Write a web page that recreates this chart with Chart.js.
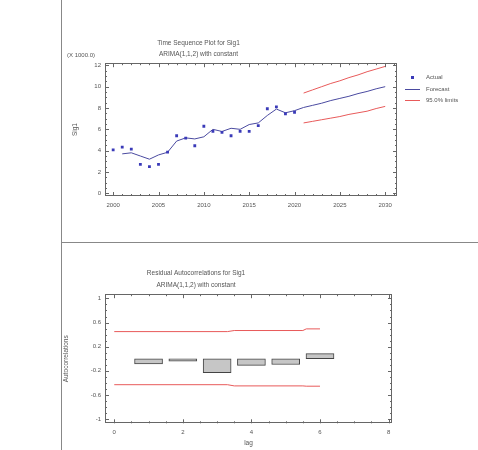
<!DOCTYPE html>
<html>
<head>
<meta charset="utf-8">
<script src="https://cdn.jsdelivr.net/npm/chart.js@4.4.0/dist/chart.umd.min.js"></script>
<style>
  body { margin: 0; background: #fff; }
  #page { position: relative; width: 478px; height: 450px; overflow: hidden;
          font-family: "Liberation Sans", Arial, sans-serif; color: #555; }
  #vline { position: absolute; left: 61px; top: 0; width: 1px; height: 450px; background: #888; }
  #hline { position: absolute; left: 61px; top: 242px; width: 417px; height: 1px; background: #888; }
  canvas { position: absolute; left: 0; }
  #topChart { top: 0; }
  #acfChart { top: 245px; }
  .note { position: absolute; left: 67px; top: 52px; font-size: 6px; }
  .leg { position: absolute; left: 405px; font-size: 6px; line-height: 8px; height: 8px; white-space: nowrap; }
  .leg i { display: inline-block; width: 15px; height: 0; vertical-align: middle; margin-right: 6px; }
  .leg b { display: inline-block; width: 3px; height: 3px; background: #3a3ab8; margin: 0 12px 0 6px; vertical-align: middle; }
</style>
</head>
<body>
<div id="page">
  <div id="vline"></div>
  <div id="hline"></div>
  <canvas id="topChart" width="478" height="240"></canvas>
  <canvas id="acfChart" width="478" height="205"></canvas>
  <div class="note">(X 1000.0)</div>
  <div class="leg" style="top:73px"><b></b>Actual</div>
  <div class="leg" style="top:85px"><i style="border-top:1px solid #4a4aa0"></i>Forecast</div>
  <div class="leg" style="top:96px"><i style="border-top:1px solid #e85a5a"></i>95.0% limits</div>
</div>
<script>
// time sequence plot
const years = [2000, 2001, 2002, 2003, 2004, 2005, 2006, 2007, 2008, 2009, 2010,
  2011, 2012, 2013, 2014, 2015, 2016, 2017, 2018, 2019, 2020];
const actual = [4.08, 4.33, 4.14, 2.72, 2.5, 2.72, 3.86, 5.4, 5.18, 4.46, 6.29,
  5.81, 5.72, 5.4, 5.81, 5.81, 6.35, 7.93, 8.1, 7.46, 7.6];

const fitYears = [2001, 2002, 2003, 2004, 2005, 2006, 2007, 2008, 2009, 2010,
  2011, 2012, 2013, 2014, 2015, 2016, 2017, 2018, 2019, 2020,
  2021, 2022, 2023, 2024, 2025, 2026, 2027, 2028, 2029, 2030];
const fitted = [3.7, 3.8, 3.5, 3.2, 3.6, 3.85, 4.9, 5.2, 5.1, 5.3,
  6.0, 5.8, 6.1, 6.0, 6.45, 6.6, 7.3, 7.9, 7.55, 7.75,
  8.05, 8.25, 8.45, 8.7, 8.9, 9.1, 9.35, 9.55, 9.8, 10.0];

const limitYears = [2021, 2022, 2023, 2024, 2025, 2026, 2027, 2028, 2029, 2030];
const upper = [9.4, 9.7, 10.0, 10.3, 10.55, 10.85, 11.1, 11.4, 11.65, 11.9];
const lower = [6.6, 6.75, 6.9, 7.05, 7.2, 7.4, 7.55, 7.7, 7.95, 8.15];

const yearTicks = [2000, 2005, 2010, 2015, 2020, 2025, 2030];
const sigTicks = [0, 2, 4, 6, 8, 10, 12];

// residual autocorrelations
const lags = [1, 2, 3, 4, 5, 6];
const residualAcf = [-0.085, -0.04, -0.23, -0.11, -0.095, 0.085];
const limitLags = [0, 3.3, 3.5, 5.5, 5.6, 6];
const acfUpper = [0.45, 0.45, 0.468, 0.468, 0.495, 0.495];
const acfLower = [-0.43, -0.43, -0.45, -0.45, -0.455, -0.455];
const lagTicks = [0, 2, 4, 6, 8];
const acfTicks = [-1, -0.6, -0.2, 0.2, 0.6, 1];

const textColor = '#555';
const tickFont = { family: 'Liberation Sans', size: 6 };
const titleFont = { family: 'Liberation Sans', size: 6.5, weight: 'normal' };

// frame with inward ticks on all four sides
const frameTicks = {
  id: 'frameTicks',
  afterDraw(chart, args, opts) {
    const { ctx, chartArea: a, scales: { x, y } } = chart;
    ctx.save();
    ctx.strokeStyle = '#666';
    ctx.lineWidth = 1;
    ctx.strokeRect(Math.round(a.left) + 0.5, Math.round(a.top) + 0.5,
      Math.round(a.width) - 1, Math.round(a.height) - 1);
    ctx.beginPath();
    const near = (v, list) => list.some(t => Math.abs(t - v) < 1e-6);
    const xMajor = x.ticks.map(t => t.value);
    const yMajor = y.ticks.map(t => t.value);
    for (let v = Math.ceil(x.min / opts.xStep) * opts.xStep; v <= x.max; v += opts.xStep) {
      const px = Math.round(x.getPixelForValue(v)) + 0.5;
      const len = near(v, xMajor) ? 4 : 2;
      ctx.moveTo(px, a.bottom); ctx.lineTo(px, a.bottom - len);
      ctx.moveTo(px, a.top); ctx.lineTo(px, a.top + len);
    }
    for (let v = Math.ceil(y.min / opts.yStep) * opts.yStep; v <= y.max; v += opts.yStep) {
      const py = Math.round(y.getPixelForValue(v)) + 0.5;
      const len = near(v, yMajor) ? 4 : 2;
      ctx.moveTo(a.left, py); ctx.lineTo(a.left + len, py);
      ctx.moveTo(a.right, py); ctx.lineTo(a.right - len, py);
    }
    ctx.stroke();
    ctx.restore();
  }
};

const pts = (xs, ys) => xs.map((v, i) => ({ x: v, y: ys[i] }));

new Chart(document.getElementById('topChart'), {
  type: 'line',
  data: {
    datasets: [
      { label: 'Actual', data: pts(years, actual), showLine: false,
        pointStyle: 'rect', pointRadius: 2, backgroundColor: '#3a3ab8', borderColor: '#3a3ab8', borderWidth: 0 },
      { label: 'Forecast', data: pts(fitYears, fitted), borderColor: '#4a4aa0', borderWidth: 1, pointRadius: 0 },
      { label: 'Upper limit', data: pts(limitYears, upper), borderColor: '#e85a5a', borderWidth: 1, pointRadius: 0 },
      { label: 'Lower limit', data: pts(limitYears, lower), borderColor: '#e85a5a', borderWidth: 1, pointRadius: 0 }
    ]
  },
  options: {
    responsive: false,
    animation: false,
    layout: { padding: { left: 0, right: 81, bottom: 0, top: 0 } },
    plugins: {
      legend: { display: false },
      tooltip: { enabled: false },
      title: { display: true, text: 'Time Sequence Plot for Sig1', color: textColor, font: titleFont,
        padding: { top: 39, bottom: 4 } },
      subtitle: { display: true, text: 'ARIMA(1,1,2) with constant', color: textColor, font: titleFont,
        padding: { top: 0, bottom: 4.6 } },
      frameTicks: { xStep: 1, yStep: 0.5 }
    },
    scales: {
      x: {
        type: 'linear', min: 1999.1, max: 2031.3,
        afterBuildTicks: s => { s.ticks = yearTicks.map(v => ({ value: v })); },
        afterFit: s => { s.height = 44; },
        grid: { display: false, drawTicks: false }, border: { display: false },
        ticks: { color: textColor, font: tickFont, padding: 6, maxRotation: 0, callback: v => String(v) }
      },
      y: {
        min: -0.25, max: 12.2,
        afterBuildTicks: s => { s.ticks = sigTicks.map(v => ({ value: v })); },
        afterFit: s => { s.width = 105; },
        grid: { display: false, drawTicks: false }, border: { display: false },
        ticks: { color: textColor, font: tickFont, padding: 4, callback: v => String(v) },
        title: { display: true, text: 'Sig1', color: textColor, font: titleFont, padding: { top: 71, bottom: 0 } }
      }
    }
  },
  plugins: [frameTicks]
});

new Chart(document.getElementById('acfChart'), {
  type: 'bar',
  data: {
    datasets: [
      { label: 'Residual autocorrelation', data: pts(lags, residualAcf),
        backgroundColor: '#c6c6c6', borderColor: '#444', borderWidth: 1, barThickness: 28, borderSkipped: false },
      { type: 'line', label: 'Upper limit', data: pts(limitLags, acfUpper),
        borderColor: '#e85a5a', borderWidth: 1, pointRadius: 0 },
      { type: 'line', label: 'Lower limit', data: pts(limitLags, acfLower),
        borderColor: '#e85a5a', borderWidth: 1, pointRadius: 0 }
    ]
  },
  options: {
    responsive: false,
    animation: false,
    layout: { padding: { left: 0, right: 86, bottom: 0, top: 0 } },
    plugins: {
      legend: { display: false },
      tooltip: { enabled: false },
      title: { display: true, text: 'Residual Autocorrelations for Sig1', color: textColor, font: titleFont,
        padding: { top: 24, bottom: 4.2 } },
      subtitle: { display: true, text: 'ARIMA(1,1,2) with constant', color: textColor, font: titleFont,
        padding: { top: 0, bottom: 5.4 } },
      frameTicks: { xStep: 0.5, yStep: 0.1 }
    },
    scales: {
      x: {
        type: 'linear', min: -0.27, max: 8.1, offset: false,
        afterBuildTicks: s => { s.ticks = lagTicks.map(v => ({ value: v })); },
        afterFit: s => { s.height = 26.7; },
        grid: { display: false, drawTicks: false }, border: { display: false },
        ticks: { color: textColor, font: tickFont, padding: 5, maxRotation: 0, callback: v => String(v) },
        title: { display: true, text: 'lag', color: textColor, font: titleFont, padding: { top: 0, bottom: 3 } }
      },
      y: {
        min: -1.07, max: 1.07,
        afterBuildTicks: s => { s.ticks = acfTicks.map(v => ({ value: v })); },
        afterFit: s => { s.width = 105; },
        grid: { display: false, drawTicks: false }, border: { display: false },
        ticks: { color: textColor, font: tickFont, padding: 4, callback: v => String(v) },
        title: { display: true, text: 'Autocorrelations', color: textColor, font: titleFont, padding: { top: 62, bottom: 0 } }
      }
    }
  },
  plugins: [frameTicks]
});
</script>
</body>
</html>
